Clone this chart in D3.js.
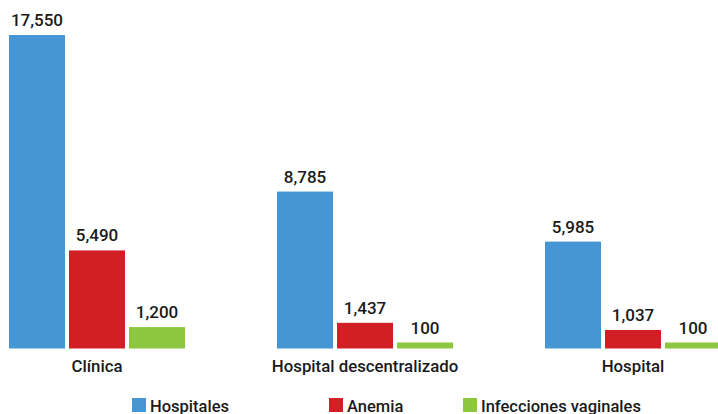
<!DOCTYPE html>
<html>
<head>
<meta charset="utf-8">
<script src="https://cdn.jsdelivr.net/npm/d3@7"></script>
<style>
  body { margin: 0; background: #fff; }
  svg { display: block; font-family: Roboto, "Liberation Sans", sans-serif; }
</style>
</head>
<body>
<svg id="chart" width="718" height="414"></svg>
<script>
// data
const categories = ['Clínica', 'Hospital descentralizado', 'Hospital'];
const series = ['Hospitales', 'Anemia', 'Infecciones vaginales'];
const hospitales = [17550, 8785, 5985];
const anemia = [5490, 1437, 1037];
const infecciones = [1200, 100, 100];
const colors = ['#4596d3', '#d21f26', '#8dc63f'];

const values = [hospitales, anemia, infecciones];
const rows = categories.map((c, i) => ({
  category: c,
  bars: series.map((s, j) => ({ series: s, value: values[j][i], color: colors[j] }))
}));

const svg = d3.select('#chart');
const baseline = 348.5;

const x0 = d3.scaleBand().domain(categories).range([9, 721]).paddingInner(0.3433).paddingOuter(0);
const x1 = d3.scaleBand().domain(series).range([0, x0.bandwidth()]).paddingInner(0.0667).paddingOuter(0);
const y = d3.scaleLinear().domain([0, d3.max(hospitales)]).range([baseline, 35]);
const minH = 6; // tiny values still get a visible sliver

const g = svg.selectAll('g.group')
  .data(rows)
  .join('g')
  .attr('class', 'group')
  .attr('transform', d => `translate(${x0(d.category)},0)`);

g.selectAll('rect')
  .data(d => d.bars)
  .join('rect')
  .attr('x', d => x1(d.series))
  .attr('width', x1.bandwidth())
  .attr('y', d => Math.min(y(d.value), baseline - minH))
  .attr('height', d => Math.max(baseline - y(d.value), minH))
  .attr('fill', d => d.color);

g.selectAll('text.val')
  .data(d => d.bars)
  .join('text')
  .attr('class', 'val')
  .attr('x', d => x1(d.series) + x1.bandwidth() / 2)
  .attr('y', d => Math.min(y(d.value), baseline - minH) - 9)
  .attr('text-anchor', 'middle')
  .attr('font-size', 17)
  .attr('font-weight', 500)
  .attr('fill', '#1a1a1a')
  .text(d => d3.format(',')(d.value));

g.append('text')
  .attr('x', x0.bandwidth() / 2)
  .attr('y', 372)
  .attr('text-anchor', 'middle')
  .attr('font-size', 16.8)
  .attr('font-weight', 500)
  .attr('fill', '#1a1a1a')
  .text(d => d.category);

// legend
const legendX = [132, 329, 463];
const leg = svg.selectAll('g.legend')
  .data(series)
  .join('g')
  .attr('class', 'legend')
  .attr('transform', (d, i) => `translate(${legendX[i]},398)`);

leg.append('rect')
  .attr('width', 14)
  .attr('height', 14)
  .attr('fill', (d, i) => colors[i]);

leg.append('text')
  .attr('x', 18)
  .attr('y', 13.5)
  .attr('font-size', 16.5)
  .attr('font-weight', 500)
  .attr('fill', '#1a1a1a')
  .text(d => d);
</script>
</body>
</html>
